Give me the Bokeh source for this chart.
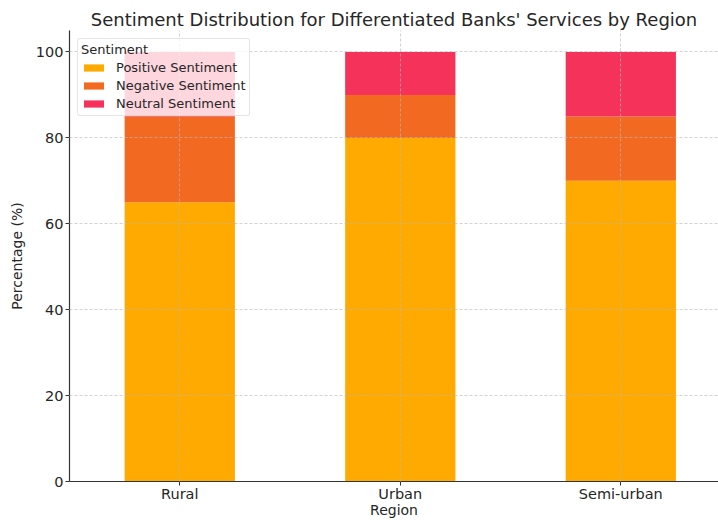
from bokeh.plotting import figure
from bokeh.models import Range1d, FixedTicker, ColumnDataSource, Legend, LegendItem
from bokeh.embed import file_html
from bokeh.resources import INLINE

regions = ["Rural", "Urban", "Semi-urban"]
positive = [65, 80, 70]
negative = [20, 10, 15]
neutral = [15, 10, 15]
series_names = ["Positive Sentiment", "Negative Sentiment", "Neutral Sentiment"]
colors = ["#ffaa00", "#f26a21", "#f5325a"]
yticks = [0, 20, 40, 60, 80, 100]

FONT = "DejaVu Sans"
TXT = "#262626"

x = list(range(len(regions)))
src = ColumnDataSource(dict(x=x, pos=positive, neg=negative, neu=neutral))

p = figure(width=718, height=520, output_backend="svg", toolbar_location=None,
           x_range=Range1d(-0.5, 2.443), y_range=Range1d(0, 105),
           title="Sentiment Distribution for Differentiated Banks' Services by Region",
           min_border_left=69, min_border_right=0, min_border_top=30, min_border_bottom=39)

rs = p.vbar_stack(["pos", "neg", "neu"], x="x", width=0.5, fill_color=colors,
                  line_color=None, source=src)

p.outline_line_color = None
p.background_fill_color = "white"

p.title.text_font = FONT
p.title.text_font_size = "18px"
p.title.text_font_style = "normal"
p.title.text_color = TXT
p.title.align = "center"
p.title.offset = 6
p.title.standoff = 2

for ax in (p.xaxis[0], p.yaxis[0]):
    ax.axis_line_color = "#333333"
    ax.axis_line_width = 1.2
    ax.major_tick_line_color = "#333333"
    ax.major_tick_out = 4
    ax.major_tick_in = 0
    ax.minor_tick_line_color = None
    ax.major_label_text_font = FONT
    ax.major_label_text_font_size = "14.5px"
    ax.major_label_text_color = TXT
    ax.axis_label_text_font = FONT
    ax.axis_label_text_font_size = "14px"
    ax.axis_label_text_font_style = "normal"
    ax.axis_label_text_color = TXT

p.xaxis.ticker = FixedTicker(ticks=x)
p.xaxis.major_label_overrides = {i: r for i, r in enumerate(regions)}
p.xaxis.axis_label = "Region"
p.xaxis.axis_label_standoff = -3
p.xaxis.major_label_standoff = 0

p.yaxis.ticker = FixedTicker(ticks=yticks)
p.yaxis.axis_label = "Percentage (%)"
p.yaxis.axis_label_standoff = 8
p.yaxis.major_label_standoff = 2

p.xgrid.ticker = FixedTicker(ticks=x)
p.ygrid.ticker = FixedTicker(ticks=yticks)
for g in (p.xgrid[0], p.ygrid[0]):
    g.grid_line_color = "#b8b8b8"
    g.grid_line_alpha = 0.8
    g.grid_line_width = 0.8
    g.grid_line_dash = "3 2"
    g.level = "overlay"

legend = Legend(items=[LegendItem(label=n, renderers=[r]) for n, r in zip(series_names, rs)],
                location="top_left", title="Sentiment")
legend.title_text_font = FONT
legend.title_text_font_size = "13px"
legend.title_text_font_style = "normal"
legend.title_text_color = TXT
legend.title_standoff = 2
legend.label_text_font = FONT
legend.label_text_font_size = "13px"
legend.label_text_color = TXT
legend.label_standoff = 10
legend.background_fill_alpha = 0.8
legend.border_line_color = "#cccccc"
legend.border_line_width = 1
legend.border_radius = 3
legend.glyph_width = 25
legend.glyph_height = 9
legend.label_height = 17
legend.spacing = 1
legend.padding = 3
legend.margin = 8
legend.level = "overlay"
p.add_layout(legend)

open("out.html", "w").write(file_html(p, INLINE))
